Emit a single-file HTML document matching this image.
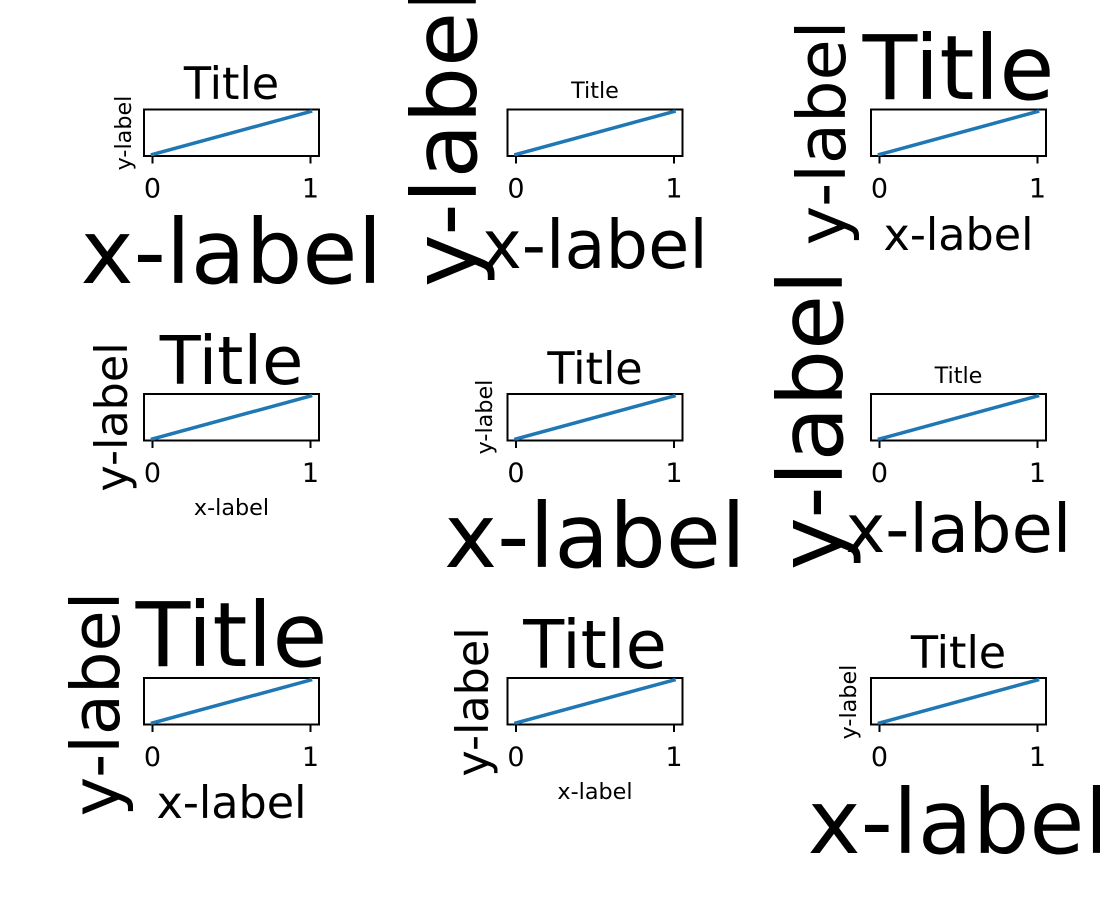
<!DOCTYPE html>
<html><head><meta charset="utf-8"><style>
html,body{margin:0;padding:0;background:#fff;}
svg{display:block;}
text{font-family:"DejaVu Sans","Liberation Sans",sans-serif;fill:#000;}
</style></head><body>
<svg width="1100" height="900" viewBox="0 0 1100 900" xmlns="http://www.w3.org/2000/svg">
<defs>
<g id="ax">
  <rect x="0" y="0" width="175" height="46.5" fill="none" stroke="#000" stroke-width="2"/>
  <line x1="8.5" y1="45" x2="166.5" y2="2" stroke="#1f77b4" stroke-width="3.5" stroke-linecap="square"/>
  <line x1="8.5" y1="46.5" x2="8.5" y2="54" stroke="#000" stroke-width="2"/>
  <line x1="166.5" y1="46.5" x2="166.5" y2="54" stroke="#000" stroke-width="2"/>
  <text x="8.5" y="88" font-size="27" text-anchor="middle">0</text>
  <text x="166.5" y="88" font-size="27" text-anchor="middle">1</text>
</g>
</defs>
<use href="#ax" x="144" y="109.5"/>
<use href="#ax" x="507.5" y="109.5"/>
<use href="#ax" x="871" y="109.5"/>
<use href="#ax" x="144" y="394"/>
<use href="#ax" x="507.5" y="394"/>
<use href="#ax" x="871" y="394"/>
<use href="#ax" x="144" y="678"/>
<use href="#ax" x="507.5" y="678"/>
<use href="#ax" x="871" y="678"/>

<text x="231.5" y="99" font-size="44.5" text-anchor="middle">Title</text>
<text x="595" y="98" font-size="22.3" text-anchor="middle">Title</text>
<text x="958.5" y="99" font-size="89.5" text-anchor="middle">Title</text>
<text x="231.5" y="384" font-size="67" text-anchor="middle">Title</text>
<text x="595" y="384" font-size="44.5" text-anchor="middle">Title</text>
<text x="958.5" y="383" font-size="22.3" text-anchor="middle">Title</text>
<text x="231.5" y="666" font-size="89.5" text-anchor="middle">Title</text>
<text x="595" y="668" font-size="67" text-anchor="middle">Title</text>
<text x="958.5" y="668" font-size="44.5" text-anchor="middle">Title</text>

<text x="231.5" y="283" font-size="89.5" text-anchor="middle">x-label</text>
<text x="595" y="268" font-size="67" text-anchor="middle">x-label</text>
<text x="958.5" y="250" font-size="44.5" text-anchor="middle">x-label</text>
<text x="231.5" y="515" font-size="22.3" text-anchor="middle">x-label</text>
<text x="595" y="567" font-size="89.5" text-anchor="middle">x-label</text>
<text x="958.5" y="552" font-size="67" text-anchor="middle">x-label</text>
<text x="231.5" y="818" font-size="44.5" text-anchor="middle">x-label</text>
<text x="595" y="799" font-size="22.3" text-anchor="middle">x-label</text>
<text x="958.5" y="853" font-size="89.5" text-anchor="middle">x-label</text>

<text transform="translate(131,133) rotate(-90)" font-size="22.3" text-anchor="middle">y-label</text>
<text transform="translate(476,137) rotate(-90)" font-size="89.5" text-anchor="middle">y-label</text>
<text transform="translate(845,133) rotate(-90)" font-size="67" text-anchor="middle">y-label</text>
<text transform="translate(127,417) rotate(-90)" font-size="44.5" text-anchor="middle">y-label</text>
<text transform="translate(492,417) rotate(-90)" font-size="22.3" text-anchor="middle">y-label</text>
<text transform="translate(842,420) rotate(-90)" font-size="89.5" text-anchor="middle">y-label</text>
<text transform="translate(119,704) rotate(-90)" font-size="67" text-anchor="middle">y-label</text>
<text transform="translate(488,702) rotate(-90)" font-size="44.5" text-anchor="middle">y-label</text>
<text transform="translate(856,702) rotate(-90)" font-size="22.3" text-anchor="middle">y-label</text>
</svg>
</body></html>
